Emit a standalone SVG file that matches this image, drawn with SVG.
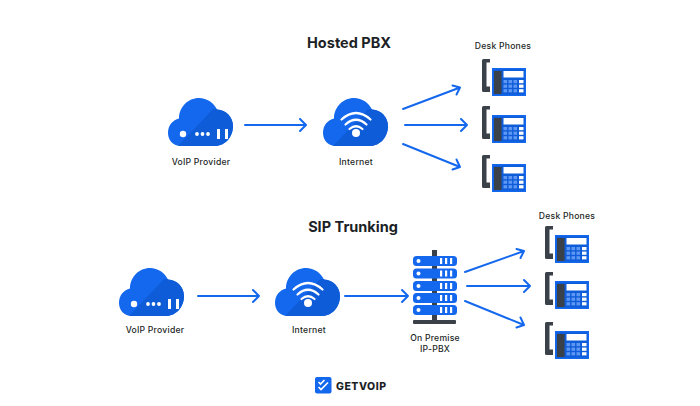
<svg xmlns="http://www.w3.org/2000/svg" width="700" height="406" viewBox="0 0 700 406">
<style>
text{font-family:Inter,"Liberation Sans",sans-serif;fill:#1c1f26}
.title{font-size:14.5px;font-weight:700;text-anchor:middle}
.lbl{font-size:8.6px;font-weight:500;text-anchor:middle;letter-spacing:.25px}
.cn{fill:none;stroke:#1468ee;stroke-width:2;stroke-linecap:round;stroke-linejoin:round}
.b{fill:#1468ee}.d{fill:#0f5cd8}.w{fill:#fff}.g{fill:#3a4149}
</style>
<defs>
<path id="cloudShape" d="M13 48C5 48 0 42 0 35C0 27 5 22 11 20.500C11 9 20 0 31 0C39 0 46 5 49 11.500C58 12 65 19 65 28C65 39 57 48 47 48Z"/>
<clipPath id="cloudShade"><path d="M10 48L45 11L65 11L65 48Z"/></clipPath>
<g id="cloud"><use href="#cloudShape" class="b"/><use href="#cloudShape" class="d" clip-path="url(#cloudShade)"/></g>
<g id="phone">
<path class="g" d="M1.500 0H8V3.500H4.500V27.500H8V33H1.500Q0 33 0 31.500V1.500Q0 0 1.500 0Z"/>
<rect x="10" y="9" width="34" height="28" class="b"/>
<rect x="11.500" y="10.500" width="31" height="25" fill="#0f5cd8"/>
<rect x="12" y="12" width="7.500" height="23" class="g"/>
<rect x="21.500" y="12" width="20" height="6.500" class="w"/>
<g fill="#5f97f5"><rect x="21.500" y="21" width="3.600" height="3.200"/><rect x="26.500" y="21" width="3.600" height="3.200"/><rect x="21.500" y="25.600" width="3.600" height="3.200"/><rect x="26.500" y="25.600" width="3.600" height="3.200"/><rect x="21.500" y="30.200" width="3.600" height="3.200"/><rect x="26.500" y="30.200" width="3.600" height="3.200"/><rect x="31.500" y="21" width="3.600" height="3.200"/><rect x="31.500" y="25.600" width="3.600" height="3.200"/><rect x="31.500" y="30.200" width="3.600" height="3.200"/></g>
<rect x="37" y="21" width="4.500" height="3.200" class="w"/><rect x="37" y="25.600" width="4.500" height="3.200" class="w"/><rect x="37" y="30.200" width="4.500" height="3.200" class="w"/>
</g>
<g id="providerFace" class="w">
<circle cx="15" cy="36" r="3.200"/>
<circle cx="29" cy="36" r="1.900"/><circle cx="34.500" cy="36" r="1.900"/><circle cx="40" cy="36" r="1.900"/>
<rect x="49" y="31" width="3" height="10"/><rect x="57" y="31" width="3" height="10"/>
</g>
<g id="wifiFace">
<circle cx="33" cy="35" r="4" class="w"/>
<path d="M18.500 21.500Q33 8.500 47.500 21.500M22.500 26.500Q33 17 43.500 26.500M26.500 31Q33 25.500 39.500 31" fill="none" stroke="#fff" stroke-width="2.200" stroke-linecap="round"/>
</g>
<g id="rack"><rect width="44" height="10" rx="3.500" class="b"/><circle cx="5.500" cy="5" r="2" class="w"/><rect x="27" y="2" width="2.200" height="6" class="w"/><rect x="32" y="2" width="2.200" height="6" class="w"/><rect x="37" y="2" width="2.200" height="6" class="w"/></g>
<path id="head" class="cn" d="M-6 -6L0 0L-6 6"/>
</defs>

<text class="title" x="349" y="48">Hosted PBX</text>
<text class="title" x="353" y="232">SIP Trunking</text>

<g id="connectors">
<path class="cn" d="M245 125H306M300 119L306 125L300 131"/>
<path class="cn" d="M403 109L460 87.500M452.500 85.500L460 87.500L456.500 94.500"/>
<path class="cn" d="M405 125H467M461 119L467 125L461 131"/>
<path class="cn" d="M403 144L460 167M456.500 159.500L460 167L452.500 169.500"/>
<path class="cn" d="M198 296H259M253 290L259 296L253 302"/>
<path class="cn" d="M345 296H408M402 290L408 296L402 302"/>
<path class="cn" d="M465 272L524 251M516.500 249L524 251L520.500 258"/>
<path class="cn" d="M467 286H530M524 280L530 286L524 292"/>
<path class="cn" d="M465 301L524 325M520.500 317.500L524 325L516.500 327.500"/>
</g>

<g id="hosted-provider" transform="translate(168 98)"><use href="#cloud"/><use href="#providerFace"/><text class="lbl" x="33" y="67">VoIP Provider</text></g>
<g id="hosted-internet" transform="translate(323 98)"><use href="#cloud"/><use href="#wifiFace"/><text class="lbl" x="33" y="67">Internet</text></g>
<g id="hosted-phones-label"><text class="lbl" x="503" y="49">Desk Phones</text></g>
<g id="hosted-phone-1" transform="translate(482 59)"><use href="#phone"/></g>
<g id="hosted-phone-2" transform="translate(482 106)"><use href="#phone"/></g>
<g id="hosted-phone-3" transform="translate(482 155)"><use href="#phone"/></g>

<g id="sip-provider" transform="translate(119 268)"><use href="#cloud"/><use href="#providerFace"/><text class="lbl" x="36" y="65">VoIP Provider</text></g>
<g id="sip-internet" transform="translate(275 268)"><use href="#cloud"/><use href="#wifiFace"/><text class="lbl" x="34" y="65">Internet</text></g>
<g id="sip-pbx">
<rect x="432" y="250" width="5" height="72" class="g"/><rect x="413" y="320" width="43" height="4" rx="1" class="g"/>
<use href="#rack" x="413" y="256"/><use href="#rack" x="413" y="268.500"/><use href="#rack" x="413" y="281"/><use href="#rack" x="413" y="293"/><use href="#rack" x="413" y="305"/>
<text class="lbl" x="435" y="341">On Premise</text><text class="lbl" x="435" y="352">IP-PBX</text>
</g>
<g id="sip-phones-label"><text class="lbl" x="567" y="219">Desk Phones</text></g>
<g id="sip-phone-1" transform="translate(545 226)"><use href="#phone"/></g>
<g id="sip-phone-2" transform="translate(545 272)"><use href="#phone"/></g>
<g id="sip-phone-3" transform="translate(545 322)"><use href="#phone"/></g>

<g id="brand">
<rect x="315" y="377" width="16.500" height="16.500" rx="2" class="b"/>
<path d="M318.500 382L320.500 384L324.500 380M318.500 387L321 389.500L328 382.500" fill="none" stroke="#fff" stroke-width="1.600"/>
<text x="336" y="390" font-size="10.500" font-weight="800" letter-spacing=".5">GETVOIP</text>
</g>
</svg>
